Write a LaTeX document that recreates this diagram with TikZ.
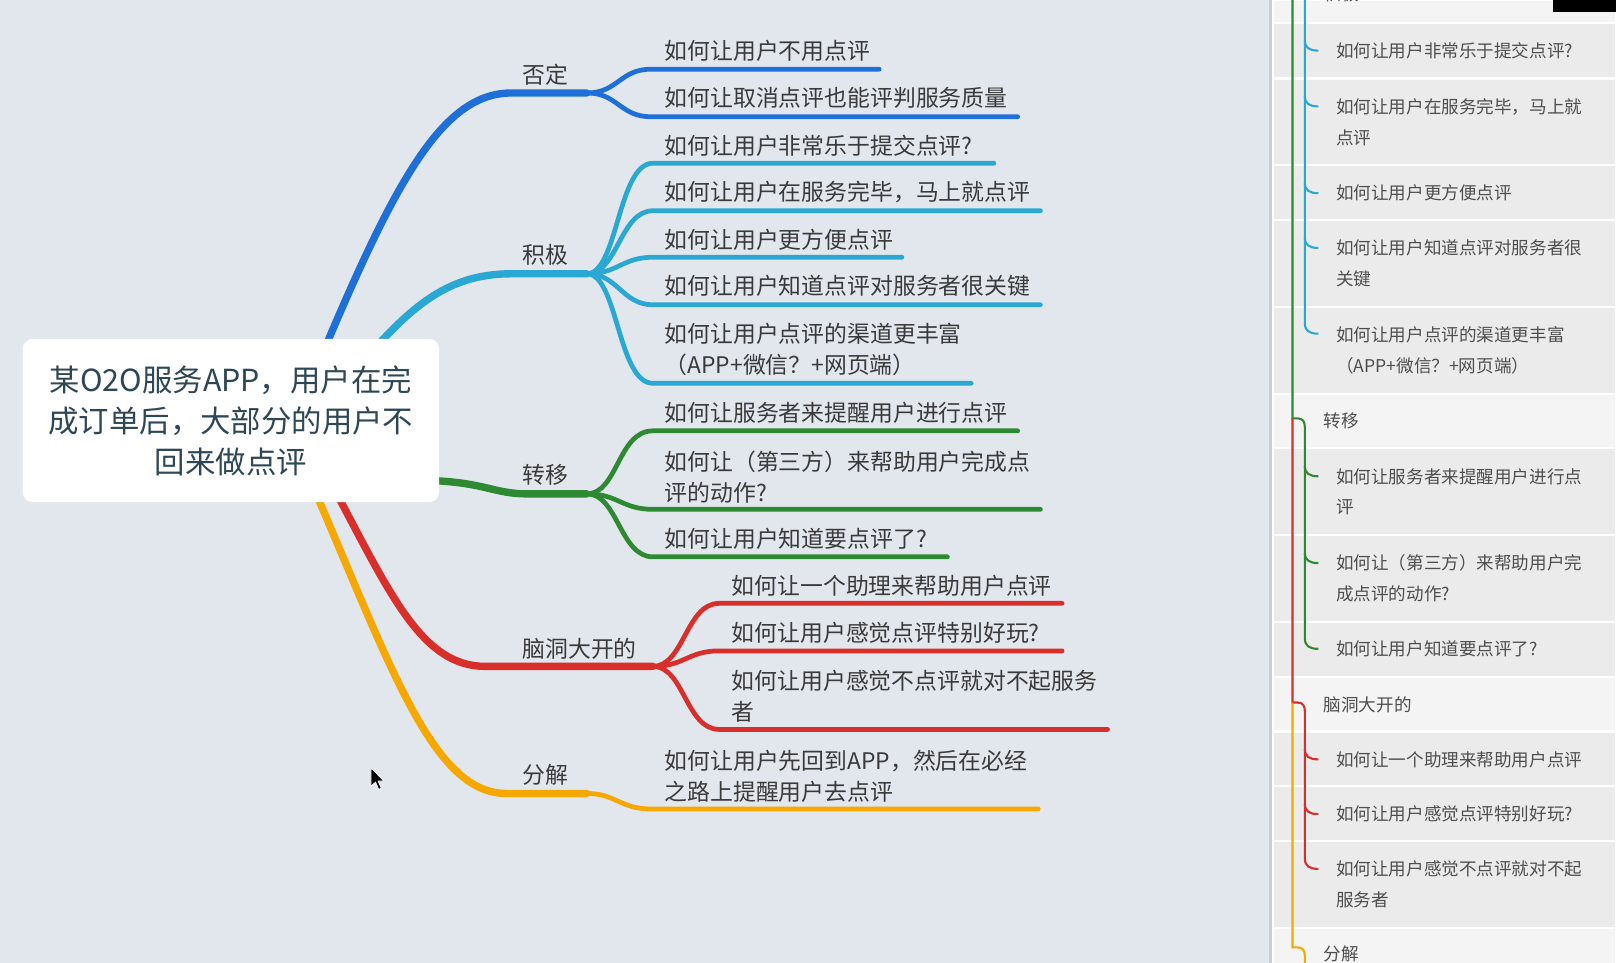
\documentclass[tikz,border=0pt]{standalone}
\usepackage{fontspec}
\setmainfont{Noto Sans CJK SC}
\definecolor{bgc}{HTML}{E2E6ED}
\definecolor{cblue}{HTML}{1E70D8}
\definecolor{ccyan}{HTML}{2AA8D4}
\definecolor{cgreen}{HTML}{2E8A32}
\definecolor{cred}{HTML}{D92F2B}
\definecolor{corange}{HTML}{F6A800}
\definecolor{txt}{HTML}{3A3A3A}
\definecolor{roottxt}{HTML}{2E4756}
\definecolor{ptxtc}{HTML}{4E4E4E}
\definecolor{rowc}{HTML}{EBEBEC}
\definecolor{hdrc}{HTML}{F4F4F5}
\definecolor{pedge}{HTML}{C9CDD3}
\begin{document}
\begin{tikzpicture}[x=0.020663cm,y=-0.020663cm,
  br/.style={line width=4.2pt,line cap=round},
  lf/.style={line width=2.7pt,line cap=round},
  pl/.style={line width=1.2pt},
  leaf/.style={anchor=west,inner sep=0pt,text=txt,align=left,font=\fontsize{13}{17.6}\selectfont},
  blab/.style={inner sep=0pt,text=txt,font=\fontsize{13}{17.6}\selectfont},
  ptx/.style={anchor=west,inner sep=0pt,text=ptxtc,align=left,font=\fontsize{10}{17.6}\selectfont},
  prow/.style={fill=rowc},
  phdr/.style={fill=hdrc}]
\useasboundingbox (0,0) rectangle (1568,932);
\clip (0,0) rectangle (1568,932);
\fill[bgc] (0,0) rectangle (1568,932);

% ---------- right panel ----------
\fill[white] (1231,0) rectangle (1568,932);
\fill[pedge] (1228,0) rectangle (1231,932);
\fill[phdr] (1233,1) rectangle (1563,21);
\fill[prow] (1233,23) rectangle (1563,75);
\fill[prow] (1233,77) rectangle (1563,159);
\fill[prow] (1233,161) rectangle (1563,212);
\fill[prow] (1233,214) rectangle (1563,296);
\fill[prow] (1233,298) rectangle (1563,380);
\fill[phdr] (1233,382) rectangle (1563,433);
\fill[prow] (1233,435) rectangle (1563,517);
\fill[prow] (1233,519) rectangle (1563,601);
\fill[prow] (1233,603) rectangle (1563,654);
\fill[phdr] (1233,656) rectangle (1563,707);
\fill[prow] (1233,709) rectangle (1563,760);
\fill[prow] (1233,762) rectangle (1563,813);
\fill[prow] (1233,815) rectangle (1563,897);
\fill[phdr] (1233,899) rectangle (1563,940);
\fill[black] (1503,0) rectangle (1564,11.5);

\node[ptx] (ph1) at (1281,-6) {积极};
\node[ptx] (pc1) at (1293,49) {如何让用户非常乐于提交点评?};
\node[ptx] (pc2) at (1293,118) {如何让用户在服务完毕，马上就\\点评};
\node[ptx] (pc3) at (1293,187) {如何让用户更方便点评};
\node[ptx] (pc4) at (1293,255) {如何让用户知道点评对服务者很\\关键};
\node[ptx] (pc5) at (1293,339) {如何让用户点评的渠道更丰富\\（APP+微信？+网页端）};
\node[ptx] (ph2) at (1281,407) {转移};
\node[ptx] (pc6) at (1293,476) {如何让服务者来提醒用户进行点\\评};
\node[ptx] (pc7) at (1293,560) {如何让（第三方）来帮助用户完\\成点评的动作?};
\node[ptx] (pc8) at (1293,628) {如何让用户知道要点评了?};
\node[ptx] (ph3) at (1281,682) {脑洞大开的};
\node[ptx] (pc9) at (1293,735) {如何让一个助理来帮助用户点评};
\node[ptx] (pc10) at (1293,788) {如何让用户感觉点评特别好玩?};
\node[ptx] (pc11) at (1293,856) {如何让用户感觉不点评就对不起\\服务者};
\node[ptx] (ph4) at (1281,923) {分解};

% panel tree lines
\draw[pl,ccyan] (1263,-5) -- (1263,313) .. controls (1263,320) and (1267,323) .. (1276,323);
\foreach \yy in {49,103,187,240}
  \draw[pl,ccyan] (1263,\yy-10) .. controls (1263,\yy-3) and (1267,\yy) .. (1276,\yy);
\draw[pl,cgreen] (1251,-5) -- (1251,405) -- (1256,405) .. controls (1261,405) and (1263,408) .. (1263,414) -- (1263,618) .. controls (1263,625) and (1267,628) .. (1276,628);
\foreach \yy in {461,545}
  \draw[pl,cgreen] (1263,\yy-10) .. controls (1263,\yy-3) and (1267,\yy) .. (1276,\yy);
\draw[pl,cred] (1251,405) -- (1251,680) -- (1256,680) .. controls (1261,680) and (1263,683) .. (1263,689) -- (1263,831) .. controls (1263,838) and (1267,841) .. (1276,841);
\foreach \yy in {735,788}
  \draw[pl,cred] (1263,\yy-10) .. controls (1263,\yy-3) and (1267,\yy) .. (1276,\yy);
\draw[pl,corange] (1251,680) -- (1251,917) -- (1256,917) .. controls (1261,917) and (1263,920) .. (1263,926) -- (1263,940);

% ---------- mind map ----------
\coordinate (bS) at (314,338); \coordinate (bF) at (568,90);
\coordinate (cS) at (362,338); \coordinate (cF) at (568,265);
\coordinate (gS) at (415,465); \coordinate (gF) at (568,478);
\coordinate (rS) at (326,478); \coordinate (rF) at (632,645);
\coordinate (yS) at (306,478); \coordinate (yF) at (568,768);

\draw[br,cblue] (bS) .. controls (385,170) and (430,90) .. (495,90) -- (bF);
\draw[br,ccyan] (cS) .. controls (405,290) and (440,265) .. (495,265) -- (cF);
\draw[br,cgreen] (gS) .. controls (470,467) and (478,478) .. (510,478) -- (gF);
\draw[br,cred] (rS) .. controls (380,580) and (410,645) .. (470,645) -- (rF);
\draw[br,corange] (yS) .. controls (380,650) and (420,768) .. (490,768) -- (yF);

\node[blab] (n1) at (528,72) {否定};
\node[blab] (n2) at (528,247) {积极};
\node[blab] (n3) at (528,460) {转移};
\node[blab] (n4) at (561,628) {脑洞大开的};
\node[blab] (n5) at (528,750) {分解};

% leaves
\node[leaf] (l1) at (643,49) {如何让用户不用点评};
\node[leaf] (l2) at (643,95) {如何让取消点评也能评判服务质量};
\coordinate (e1) at (851,67); \coordinate (e2) at (985,113);
\draw[lf,cblue] (bF) .. controls (598,90) and (600,67) .. (630,67) -- (e1);
\draw[lf,cblue] (bF) .. controls (598,90) and (600,113) .. (630,113) -- (e2);

\node[leaf] (l3) at (643,141) {如何让用户非常乐于提交点评?};
\node[leaf] (l4) at (643,186) {如何让用户在服务完毕，马上就点评};
\node[leaf] (l5) at (643,232) {如何让用户更方便点评};
\node[leaf] (l6) at (643,277) {如何让用户知道点评对服务者很关键};
\node[leaf] (l7) at (643,338) {如何让用户点评的渠道更丰富\\（APP+微信？+网页端）};
\coordinate (e3) at (962,158); \coordinate (e4) at (1007,204);
\coordinate (e5) at (873,249); \coordinate (e6) at (1007,295);
\coordinate (e7) at (940,371);
\draw[lf,ccyan] (cF) .. controls (598,265) and (598,158) .. (632,158) -- (e3);
\draw[lf,ccyan] (cF) .. controls (598,265) and (600,204) .. (632,204) -- (e4);
\draw[lf,ccyan] (cF) .. controls (598,265) and (602,249) .. (632,249) -- (e5);
\draw[lf,ccyan] (cF) .. controls (598,265) and (602,295) .. (632,295) -- (e6);
\draw[lf,ccyan] (cF) .. controls (598,265) and (598,371) .. (632,371) -- (e7);

\node[leaf] (l8) at (643,400) {如何让服务者来提醒用户进行点评};
\node[leaf] (l9) at (643,461.5) {如何让（第三方）来帮助用户完成点\\评的动作?};
\node[leaf] (l10) at (643,522) {如何让用户知道要点评了?};
\coordinate (e8) at (985,417); \coordinate (e9) at (1007,493); \coordinate (e10) at (917,539);
\draw[lf,cgreen] (gF) .. controls (598,478) and (598,417) .. (632,417) -- (e8);
\draw[lf,cgreen] (gF) .. controls (598,478) and (602,493) .. (632,493) -- (e9);
\draw[lf,cgreen] (gF) .. controls (598,478) and (600,539) .. (632,539) -- (e10);

\node[leaf] (l11) at (708,567) {如何让一个助理来帮助用户点评};
\node[leaf] (l12) at (708,613) {如何让用户感觉点评特别好玩?};
\node[leaf] (l13) at (708,674) {如何让用户感觉不点评就对不起服务\\者};
\coordinate (e11) at (1028,584); \coordinate (e12) at (1028,630); \coordinate (e13) at (1072,706);
\draw[lf,cred] (rF) .. controls (662,645) and (664,584) .. (696,584) -- (e11);
\draw[lf,cred] (rF) .. controls (662,645) and (666,630) .. (696,630) -- (e12);
\draw[lf,cred] (rF) .. controls (662,645) and (664,706) .. (696,706) -- (e13);

\node[leaf] (l14) at (643,751) {如何让用户先回到APP，然后在必经\\之路上提醒用户去点评};
\coordinate (e14) at (1005,783);
\draw[lf,corange] (yF) .. controls (596,768) and (600,783) .. (630,783) -- (e14);

% root
\node[fill=white,rounded corners=0.2cm,minimum width=8.327cm,minimum height=3.265cm,
  inner sep=0pt,align=center,text=roottxt,font=\fontsize{17.3}{23.4}\selectfont]
  (root) at (223.5,407) {某O2O服务APP，用户在完\\成订单后，大部分的用户不\\回来做点评};

% mouse cursor
\filldraw[fill=black,draw=white,line width=0.4pt] (359,743) -- (359,761) -- (363.5,757) -- (366.5,764) -- (369,763) -- (366,756) -- (371.5,756) -- cycle;
\end{tikzpicture}
\end{document}
